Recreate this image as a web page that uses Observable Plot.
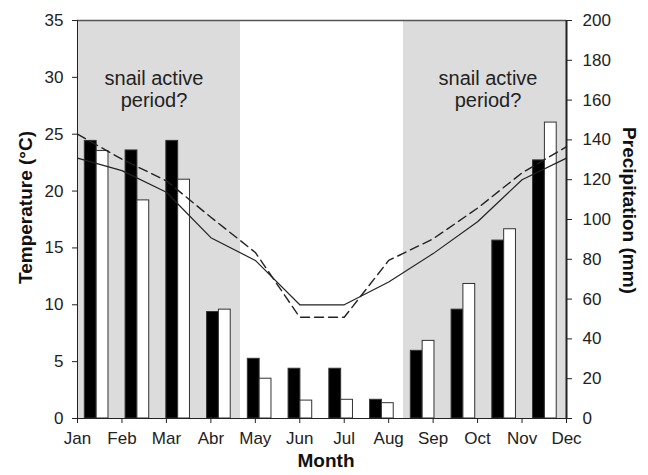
<!DOCTYPE html>
<html><head><meta charset="utf-8">
<script src="https://cdn.jsdelivr.net/npm/d3@7"></script>
<script src="https://cdn.jsdelivr.net/npm/@observablehq/plot@0.6"></script>
<style>
body{margin:0;background:#fff}
</style>
</head><body><div id="chart"></div>
<script>
const months = ["Jan","Feb","Mar","Abr","May","Jun","Jul","Aug","Sep","Oct","Nov","Dec"];
const tempSolid  = [22.9,21.8,19.9,15.9,13.9,10.0,10.0,12.0,14.5,17.3,21.0,22.9];
const tempDashed = [25.0,22.8,20.9,17.7,14.6,8.9,8.9,13.9,15.8,18.5,21.6,23.9];
const precipBlack = [139.5,134.7,139.5,53.5,30,25,25,9.4,34,54.7,89.4,129.7];
const precipWhite = [134.4,109.6,120,54.7,20,9,9.4,7.7,39,67.6,95.1,148.7];
const activePeriods = [["Jan","Abr"],["Sep","Dec"]];
const activeLabel = "snail active\nperiod?";
const tempTicks = [0,5,10,15,20,25,30,35];
const precipTicks = [0,20,40,60,80,100,120,140,160,180,200];

const tMax = 35, pMax = 200, k = tMax / pMax;
const nPts = months.length - 1;       // point positions 0..11
const bw = nPts / months.length;      // band width in point units
const idx = m => months.indexOf(m);

const bars = [
  ...precipBlack.map((v,i)=>({i, mm:v, s:"black"})),
  ...precipWhite.map((v,i)=>({i, mm:v, s:"white"}))
];
const pos = {black:[0.18,0.47], white:[0.47,0.76]};

const tick = {fontSize:17, tickSize:5, label:null};
const chart = Plot.plot({
  width:648, height:475,
  marginLeft:77, marginRight:82, marginTop:20, marginBottom:57,
  style:{fontFamily:"'Liberation Sans', Arial, sans-serif", fontSize:"17px", color:"#222", background:"#fff"},
  x:{domain:[0,nPts]},
  y:{domain:[0,tMax]},
  marks:[
    Plot.rect(activePeriods, {x1:d=>idx(d[0])*bw, x2:d=>(idx(d[1])+1)*bw, y1:0, y2:tMax, fill:"#dcdcdc"}),
    Plot.text(activePeriods.slice(0,1), {x:d=>(idx(d[0])+idx(d[1])+1)/2*bw, y:29, text:()=>activeLabel, fontSize:20, lineHeight:1.1, dx:-5, fill:"#222"}),
    Plot.text(activePeriods.slice(1), {x:d=>(idx(d[0])+idx(d[1])+1)/2*bw, y:29, text:()=>activeLabel, fontSize:20, lineHeight:1.1, dx:3, fill:"#222"}),
    Plot.rect(bars, {x1:d=>(d.i+pos[d.s][0])*bw, x2:d=>(d.i+pos[d.s][1])*bw, y1:0, y2:d=>d.mm*k,
      fill:d=>d.s==="black"?"#000":"#fff", stroke:"#333", strokeWidth:1}),
    Plot.line(tempSolid, {x:(d,i)=>i, y:d=>d, stroke:"#222", strokeWidth:1.2}),
    Plot.line(tempDashed, {x:(d,i)=>i, y:d=>d, stroke:"#222", strokeWidth:1.4, strokeDasharray:"9,5"}),
    Plot.ruleY([tMax], {stroke:"#555", strokeWidth:1.5}),
    Plot.ruleY([0], {stroke:"#222"}),
    Plot.ruleX([0], {stroke:"#222"}),
    Plot.ruleX([nPts], {stroke:"#222", strokeWidth:2}),
    Plot.axisY({...tick, anchor:"left", ticks:tempTicks, tickPadding:9}),
    Plot.axisY({...tick, anchor:"right", ticks:precipTicks.map(v=>v*k), tickFormat:v=>String(Math.round(v/k)), tickPadding:11}),
    Plot.axisX({...tick, ticks:months.map((m,i)=>i), tickFormat:i=>months[i], tickPadding:8}),
    Plot.text(["Temperature (°C)"], {frameAnchor:"left", textAnchor:"middle", dx:-52, dy:-12, rotate:-90, fontSize:19, fontWeight:"bold", fill:"#111"}),
    Plot.text(["Precipitation (mm)"], {frameAnchor:"right", textAnchor:"middle", dx:63, dy:-9, rotate:90, fontSize:19, fontWeight:"bold", fill:"#111"}),
    Plot.text(["Month"], {frameAnchor:"bottom", textAnchor:"middle", dx:4, dy:48, fontSize:19, fontWeight:"bold", fill:"#111"})
  ]
});
document.getElementById("chart").appendChild(chart);
</script>
</body></html>
